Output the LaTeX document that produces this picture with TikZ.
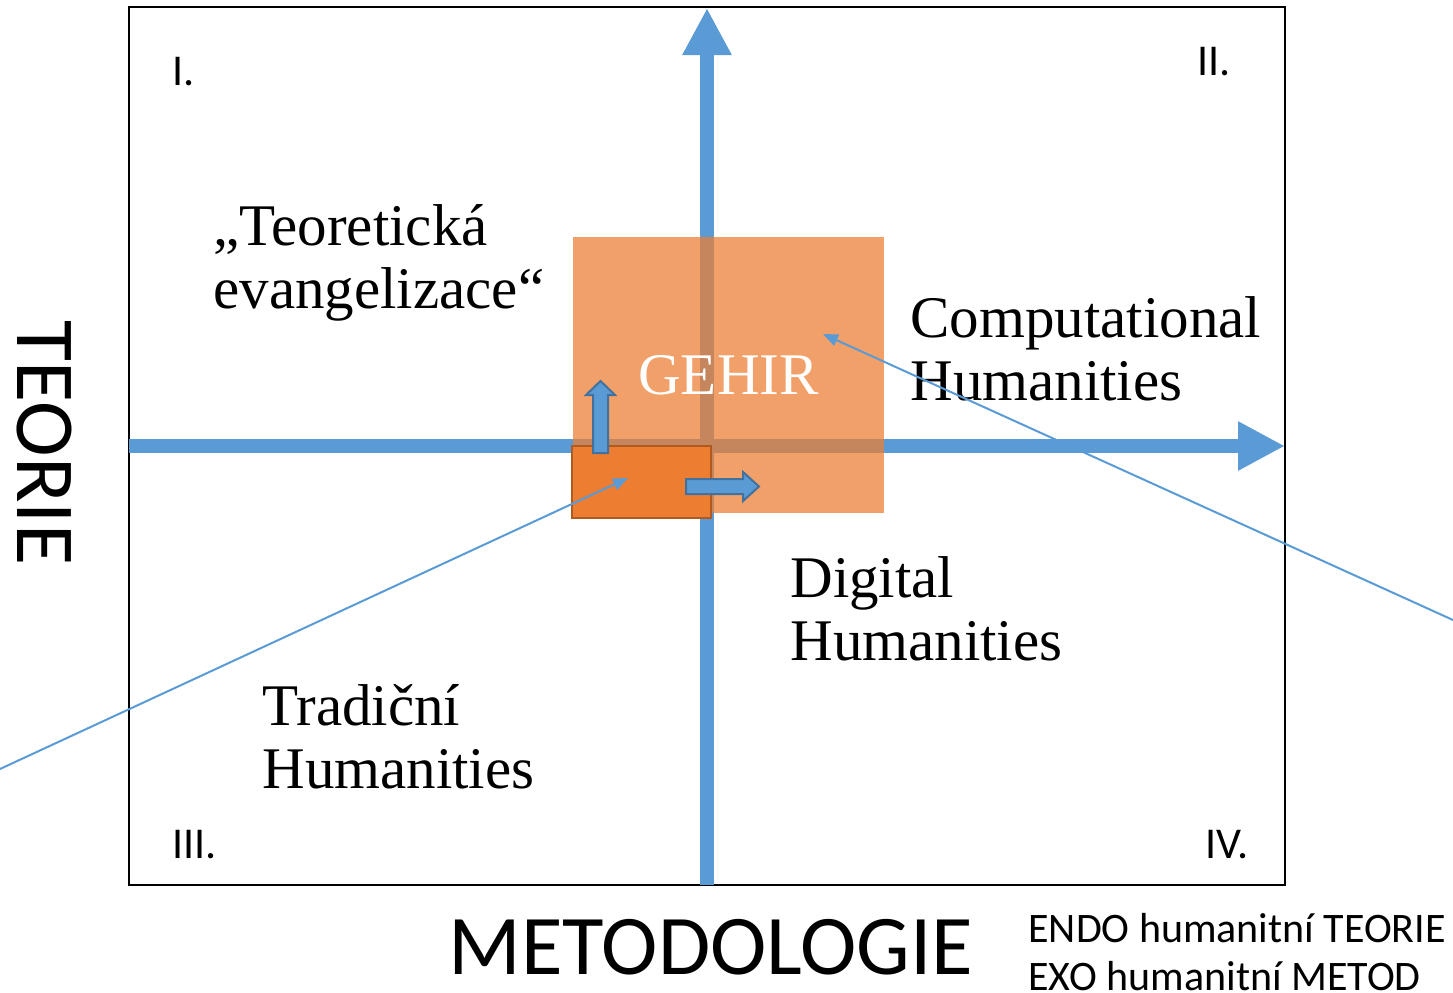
\documentclass[tikz,border=0pt]{standalone}
\usepackage{fontspec}
\setmainfont{Liberation Serif}
\newfontfamily\calib{Carlito}
\usetikzlibrary{arrows.meta}
\definecolor{axisblue}{HTML}{5B9BD5}
\definecolor{darkblue}{HTML}{41719C}
\definecolor{gehirorange}{HTML}{ED7D31}
\definecolor{darkorange}{HTML}{AE5A21}

\begin{document}
\begin{tikzpicture}[x=0.5pt, y=-0.5pt,
  axis/.style={draw=axisblue, line width=7pt, -{Triangle[width=23pt,length=23.5pt]}},
  pointer/.style={draw=axisblue, line width=1pt, -{Triangle[width=6pt,length=7.5pt]}},
  blockarrow/.style={fill=axisblue, draw=darkblue, line width=1pt, line join=miter},
  quadrant/.style={font=\calib\fontsize{22}{26}\selectfont, anchor=base west, inner sep=0pt},
  field/.style={font=\fontsize{29.5}{31.5}\selectfont, align=left, anchor=base west, inner sep=0pt},
  bigbox/.style={fill=gehirorange, fill opacity=0.73, text opacity=1, text=white,
    minimum width=155.5pt, minimum height=138pt, inner sep=0pt,
    font=\fontsize{29.5}{31.5}\selectfont},
  corebox/.style={fill=gehirorange, draw=darkorange, line width=1pt,
    minimum width=69.5pt, minimum height=36pt, inner sep=0pt}]
  \useasboundingbox (0,0) rectangle (1453,992);

  % frame and axes
  \draw[line width=1.3pt] (129,7) rectangle (1285,885);
  \coordinate (west) at (129,446);
  \coordinate (east) at (1285,446);
  \coordinate (south) at (707,885);
  \coordinate (north) at (707,8);
  \draw[axis] (west) -- (east);
  \draw[axis] (south) -- (north);

  % GEHIR
  \node[bigbox] (gehir) at (728.5,375) {GEHIR};
  \node[corebox] (core) at (641.5,482) {};
  \draw[blockarrow] (593,453) -- (593,395) -- (586,395) -- (600.5,381) -- (615,395)
    -- (608,395) -- (608,453) -- cycle;
  \draw[blockarrow] (686,479) -- (743,479) -- (743,472) -- (759,486.5) -- (743,501)
    -- (743,494) -- (686,494) -- cycle;

  % fields (anchored on the last line)
  \node[field] (theory) at (213,308) {„Teoretická\\evangelizace“};
  \node[field] (comp) at (910,400) {Computational\\Humanities};
  \node[field] (digital) at (790,660) {Digital\\Humanities};
  \node[field] (trad) at (262,788) {Tradiční\\Humanities};

  % pointers
  \coordinate (leftend) at (0,769);
  \coordinate (coretip) at (628,478);
  \coordinate (rightend) at (1453,620);
  \coordinate (gehirtip) at (823,334);
  \draw[pointer] (leftend) -- (coretip);
  \draw[pointer] (rightend) -- (gehirtip);

  % quadrants
  \node[quadrant] (q1) at (172,85) {I.};
  \node[quadrant] (q2) at (1197,75) {II.};
  \node[quadrant] (q3) at (172,858) {III.};
  \node[quadrant] (q4) at (1205,858) {IV.};

  % axis titles
  \node[font=\calib\fontsize{42}{50}\selectfont, rotate=-90, anchor=base, inner sep=0pt]
    (teorie) at (18,443) {TEORIE};
  \node[font=\calib\fontsize{42.5}{50}\selectfont, anchor=base, inner sep=0pt]
    (metod) at (711,974) {METODOLOGIE};
  \node[font=\calib\fontsize{21}{24}\selectfont, anchor=base west, inner sep=0pt]
    (endo) at (1028,942) {ENDO humanitní TEORIE};
  \node[font=\calib\fontsize{21}{24}\selectfont, anchor=base west, inner sep=0pt]
    (exo) at (1028,990) {EXO humanitní METOD};
\end{tikzpicture}
\end{document}
